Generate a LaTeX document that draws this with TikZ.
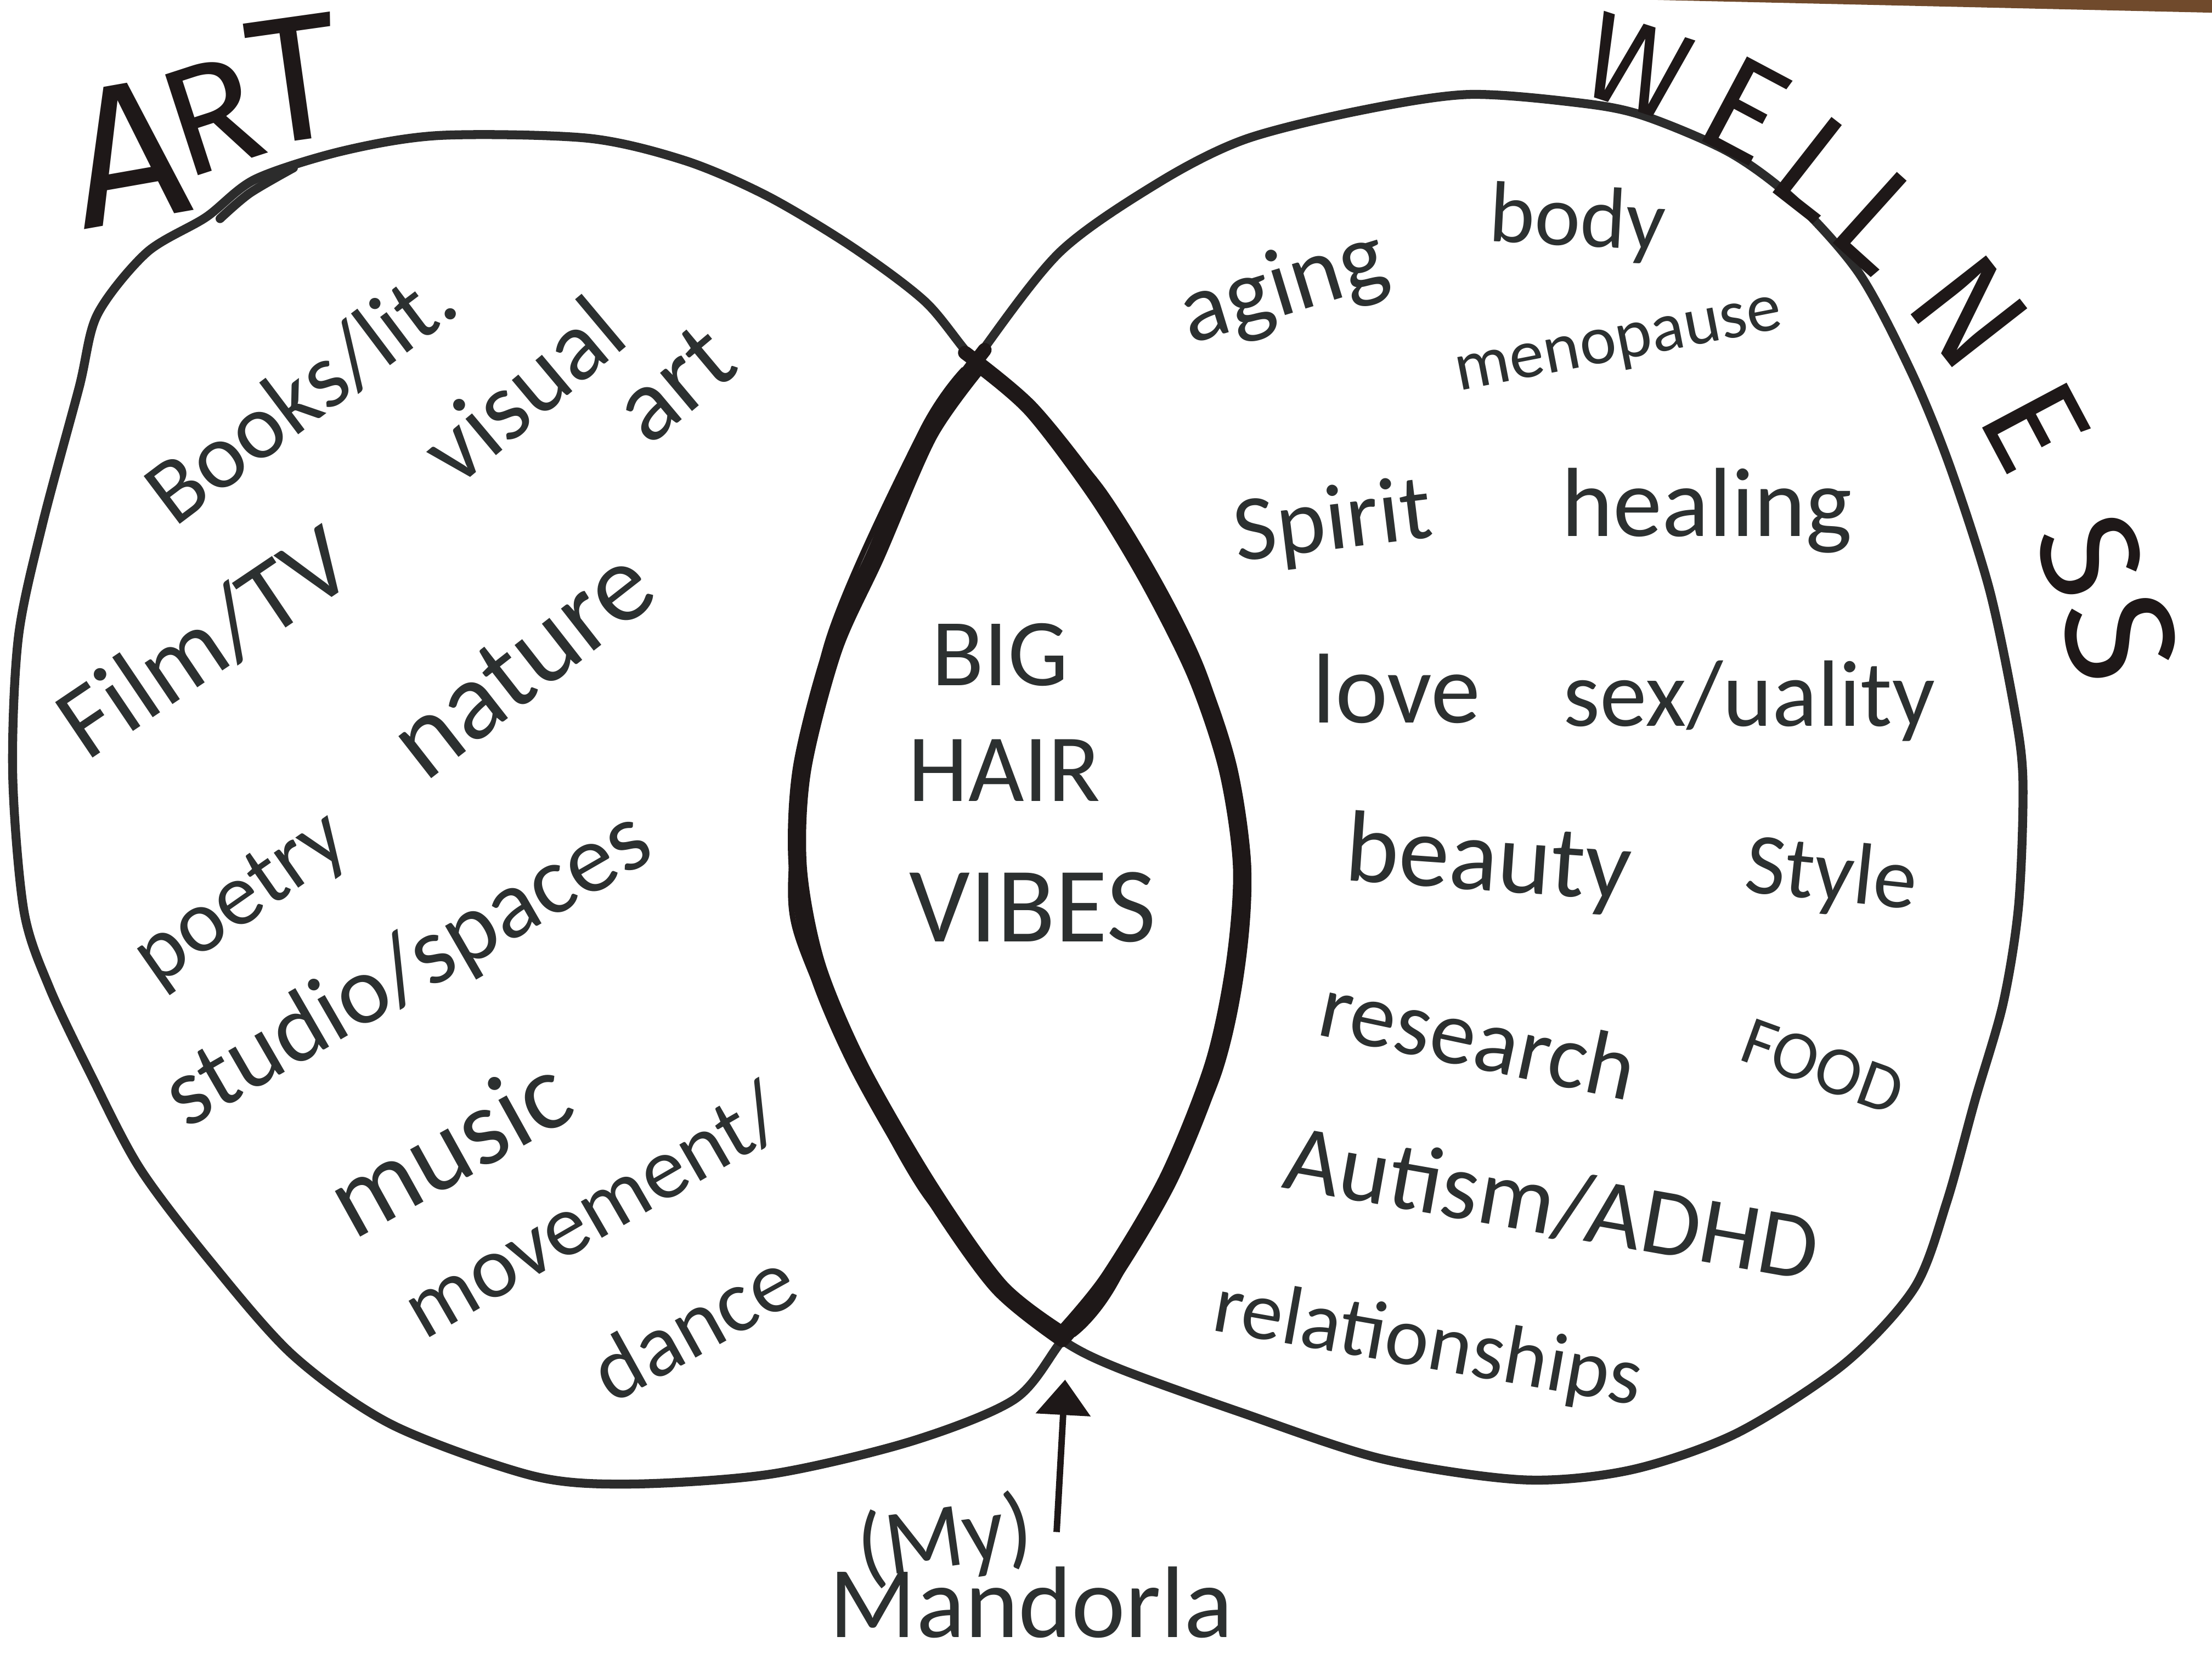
\documentclass[tikz,border=0pt]{standalone}
\usepackage{fontspec}
\setmainfont{Fira Sans}
\newfontfamily\hand{Carlito}
\usetikzlibrary{arrows.meta}
\definecolor{ink}{RGB}{44,48,48}
\definecolor{pen}{RGB}{44,44,44}
\definecolor{marker}{RGB}{30,24,24}
\definecolor{wood}{RGB}{112,74,44}
\newcommand\fsz[1]{\fontsize{#1}{#1}\selectfont}
\begin{document}
\begin{tikzpicture}[x=0.01cm,y=-0.01cm,
  circ/.style={draw=pen, line width=1.8pt, line join=round, line cap=round},
  mand/.style={draw=marker, line width=2.8pt, line cap=round, line join=round},
  mandthin/.style={draw=marker, line width=1.7pt, line cap=round, line join=round},
  mandhair/.style={draw=marker, line width=1.1pt, line cap=round, line join=round},
  hw/.style={text=ink, inner sep=0pt},
  titletext/.style={text=marker, inner sep=0pt}]
\useasboundingbox (0,0) rectangle (1568,1176);
\fill[white] (0,0) rectangle (1568,1176);
\fill[wood] (1175,0) -- (1568,0) -- (1568,9) -- cycle;

% left circle (ART)
\draw[circ] plot[smooth cycle] coordinates {(104,179) (146,154) (181,127) (243,107) (312,96) (417,98) (486,114) (544,139) (604,175) (656,214) (691,256) (731,289) (780,351) (817,412) (850,478) (872,544) (882,615) (877,685) (862,756) (830,836) (788,907) (753,950) (719,992) (645,1022) (546,1045) (446,1052) (377,1046) (278,1010) (208,961) (149,894) (99,828) (64,761) (35,700) (17,646) (9,549) (13,452) (30,372) (56,275) (69,223)};
\draw[circ] plot[smooth] coordinates {(156,155) (177,137) (208,119)};

% right circle (WELLNESS)
\draw[circ] plot[smooth cycle] coordinates {(691,256) (751,179) (822,129) (882,99) (961,79) (1040,67) (1120,73) (1165,82) (1226,108) (1272,142) (1318,194) (1355,264) (1382,330) (1410,417) (1428,503) (1434,554) (1431,641) (1420,711) (1400,780) (1380,852) (1357,913) (1307,967) (1231,1016) (1156,1042) (1080,1049) (979,1034) (879,1001) (793,970) (753,950) (706,912) (656,841) (607,756) (577,685) (564,615) (567,544) (589,459) (619,393) (656,308)};

% mandorla, drawn over several times
\draw[mand] plot[smooth] coordinates {(684,250) (731,289) (780,351) (817,412) (850,478) (872,544) (882,615) (877,685) (862,756) (830,836) (788,907) (753,950)};
\draw[mandthin, xshift=-0.05cm] plot[smooth] coordinates {(694,258) (734,292) (780,353) (817,414) (850,480) (872,546) (882,615) (877,683) (862,754) (830,834) (788,905) (756,944)};
\draw[mandhair, xshift=0.03cm] plot[smooth] coordinates {(700,262) (780,349) (850,476) (882,615) (862,758) (788,909) (758,946)};
\draw[mand] plot[smooth] coordinates {(753,950) (706,912) (656,841) (607,756) (577,685) (564,615) (567,544) (589,459) (619,393) (656,308) (698,248)};
\draw[mandthin, xshift=0.05cm] plot[smooth] coordinates {(750,944) (706,910) (656,839) (607,754) (577,683) (564,615) (567,546) (589,461) (619,395) (656,310) (690,262)};
\draw[mandhair, xshift=-0.03cm] plot[smooth] coordinates {(748,946) (656,843) (577,687) (564,615) (589,457) (656,306) (686,262)};

% titles
\node[titletext, font=\fsz{40}, rotate=10] (tA) at (90,108) {A};
\node[titletext, font=\fsz{31}, rotate=18] (tR) at (150,82) {R};
\node[titletext, font=\fsz{36}, rotate=8] (tT) at (209,56) {T};

\node[titletext, font=\fsz{25}, rotate=-18] (w1) at (1160,47) {W};
\node[titletext, font=\fsz{28}, rotate=-28] (w2) at (1237,78) {E};
\node[titletext, font=\fsz{28}, rotate=-38] (w3) at (1289,119) {L};
\node[titletext, font=\fsz{28}, rotate=-42] (w4) at (1333,157) {L};
\node[titletext, font=\fsz{28}, rotate=-52] (w5) at (1396,221) {N};
\node[titletext, font=\fsz{28}, rotate=-62] (w6) at (1443,302) {E};
\node[titletext, font=\fsz{28}, rotate=-72] (w7) at (1482,394) {S};
\node[titletext, font=\fsz{31}, rotate=-78] (w8) at (1503,452) {S};

% ART words
\node[hw, font=\hand\fsz{18.8}, rotate=37] (books) at (213,280) {Books/lit.};
\node[hw, font=\hand\fsz{20}, rotate=40] (visual) at (370,276) {visual};
\node[hw, font=\hand\fsz{21}, rotate=40] (art) at (478,272) {art};
\node[hw, font=\hand\fsz{21}, rotate=34] (film) at (145,455) {Film/TV};
\node[hw, font=\hand\fsz{22.5}, rotate=38] (nature) at (370,470) {nature};
\node[hw, font=\hand\fsz{18}, rotate=35] (poetry) at (172,639) {poetry};
\node[hw, font=\hand\fsz{19.6}, rotate=30] (studio) at (290,688) {studio/spaces};
\node[hw, font=\hand\fsz{22}, rotate=29] (music) at (318,812) {music};
\node[hw, font=\hand\fsz{17.7}, rotate=30] (movement) at (420,858) {movement/};
\node[hw, font=\hand\fsz{18}, rotate=29] (dance) at (491,939) {dance};

% WELLNESS words
\node[hw, font=\hand\fsz{19.6}, rotate=17] (aging) at (910,205) {aging};
\node[hw, font=\hand\fsz{17.5}, rotate=-3] (body) at (1118,158) {body};
\node[hw, font=\hand\fsz{14}, rotate=11] (meno) at (1148,247) {menopause};
\node[hw, font=\hand\fsz{18.8}, rotate=7] (spirit) at (945,372) {Spirit};
\node[hw, font=\hand\fsz{19.8}] (healing) at (1210,362) {healing};
\node[hw, font=\hand\fsz{20}] (love) at (990,488) {love};
\node[hw, font=\hand\fsz{19}] (sex) at (1240,497) {sex/uality};
\node[hw, font=\hand\fsz{20.5}, rotate=-4] (beauty) at (1055,612) {beauty};
\node[hw, font=\hand\fsz{17.6}, rotate=-6] (style) at (1298,622) {Style};
\node[hw, font=\hand\fsz{18.5}, rotate=-12] (research) at (1048,735) {research};
\node[hw, font=\hand\fsz{14}, rotate=-20] (food) at (1292,756) {FOOD};
\node[hw, font=\hand\fsz{19.3}, rotate=-10] (autism) at (1100,853) {Autism/ADHD};
\node[hw, font=\hand\fsz{16.8}, rotate=-10] (rel) at (1012,954) {relationships};

% mandorla words
\node[hw, font=\hand\fsz{19.3}] (big) at (709,464) {BIG};
\node[hw, font=\hand\fsz{19.4}] (hair) at (712,546) {HAIR};
\node[hw, font=\hand\fsz{21.6}] (vibes) at (732,643) {VIBES};

% label and arrow
\node[hw, font=\hand\fsz{18.5}, rotate=8] (my) at (670,1092) {(My)};
\node[hw, font=\hand\fsz{20.5}] (mandorla) at (731,1136) {Mandorla};
\coordinate (foot) at (749,1086);
\coordinate (tip) at (755,978);
\draw[draw=marker, line width=1.3pt, -{Triangle[length=0.25cm,width=0.38cm]}] (foot) -- (tip);
\end{tikzpicture}
\end{document}
